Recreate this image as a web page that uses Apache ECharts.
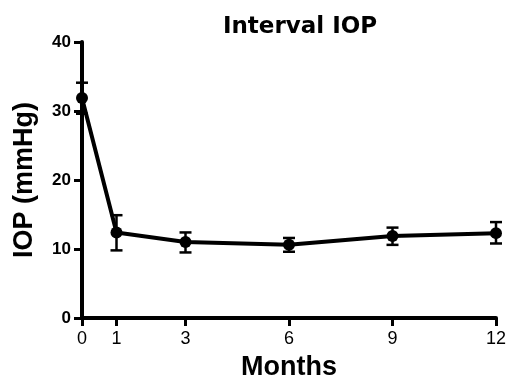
<!DOCTYPE html>
<html>
<head>
<meta charset="utf-8">
<script src="https://cdn.jsdelivr.net/npm/echarts@6/dist/echarts.min.js"></script>
<style>
  html, body { margin: 0; padding: 0; background: #fff; }
  #chart { width: 508px; height: 378px; }
</style>
</head>
<body>
<div id="chart"></div>
<script>
// months and mean IOP with error bar ends
var months = [0, 1, 3, 6, 9, 12];
var iopMean = [31.9, 12.4, 11.0, 10.6, 11.9, 12.3];
var iopLow = [29.6, 9.8, 9.5, 9.6, 10.6, 10.8];
var iopHigh = [34.1, 14.9, 12.4, 11.6, 13.1, 13.9];
var xTicks = [0, 1, 3, 6, 9, 12];

var chart = echarts.init(document.getElementById('chart'));
var font = '"Liberation Sans", Arial, sans-serif';

var option = {
  animation: false,
  title: {
    text: 'Interval IOP',
    left: 295,
    top: 11,
    textAlign: 'center',
    textStyle: { fontFamily: '"DejaVu Sans", sans-serif', fontWeight: 'bold', fontSize: 23, color: '#000' }
  },
  // keep the plot box fixed, labels may sit near the edge
  grid: { left: 82, right: 12, top: 42, bottom: 60, containLabel: false, outerBoundsMode: 'none' },
  xAxis: {
    type: 'value',
    min: 0,
    max: 12,
    name: 'Months',
    nameLocation: 'middle',
    nameGap: 36,
    nameTextStyle: { fontFamily: font, fontWeight: 'bold', fontSize: 27, color: '#000' },
    splitLine: { show: false },
    axisLine: { lineStyle: { color: '#000', width: 4 } },
    axisTick: { show: true, length: 8, lineStyle: { color: '#000', width: 3 }, customValues: xTicks },
    axisLabel: { fontFamily: font, fontSize: 18, color: '#000', margin: 12, customValues: xTicks }
  },
  yAxis: {
    type: 'value',
    min: 0,
    max: 40,
    interval: 10,
    name: 'IOP (mmHg)',
    nameLocation: 'middle',
    nameGap: 44,
    nameTextStyle: { fontFamily: font, fontWeight: 'bold', fontSize: 27, color: '#000' },
    splitLine: { show: false },
    axisLine: { show: true, lineStyle: { color: '#000', width: 4 } },
    axisTick: { show: true, length: 8, lineStyle: { color: '#000', width: 3 } },
    axisLabel: { fontFamily: font, fontWeight: 'bold', fontSize: 17, color: '#000', margin: 11 }
  },
  series: [
    {
      type: 'custom',
      z: 3,
      renderItem: function (params, api) {
        var x = api.value(0);
        var lo = api.coord([x, api.value(1)]);
        var hi = api.coord([x, api.value(2)]);
        var w = 6;
        var st = { stroke: '#000', lineWidth: 2.5 };
        return {
          type: 'group',
          children: [
            { type: 'line', shape: { x1: lo[0], y1: lo[1], x2: hi[0], y2: hi[1] }, style: st },
            { type: 'line', shape: { x1: lo[0] - w, y1: lo[1], x2: lo[0] + w, y2: lo[1] }, style: st },
            { type: 'line', shape: { x1: hi[0] - w, y1: hi[1], x2: hi[0] + w, y2: hi[1] }, style: st }
          ]
        };
      },
      data: months.map(function (m, i) { return [m, iopLow[i], iopHigh[i]]; })
    },
    {
      type: 'line',
      z: 4,
      data: months.map(function (m, i) { return [m, iopMean[i]]; }),
      symbol: 'circle',
      symbolSize: 12,
      itemStyle: { color: '#000' },
      lineStyle: { color: '#000', width: 4 }
    }
  ]
};
chart.setOption(option);
</script>
</body>
</html>
